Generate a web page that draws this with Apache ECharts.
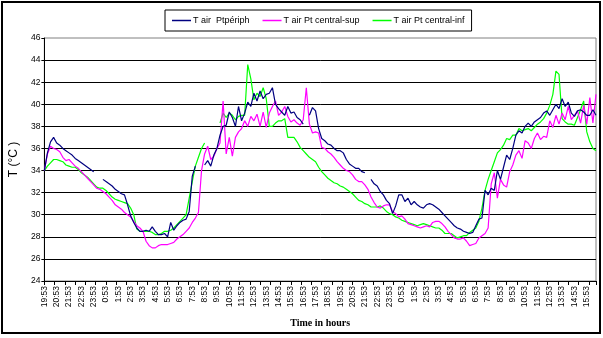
<!DOCTYPE html>
<html>
<head>
<meta charset="utf-8">
<script src="https://cdn.jsdelivr.net/npm/echarts@6/dist/echarts.min.js"></script>
<style>
  html, body { margin: 0; padding: 0; background: #fff; }
  #tempChart { width: 603px; height: 338px; }
</style>
</head>
<body>
<div id="tempChart"></div>
<script>
// one reading every 15 min, starting at 19:53
var STEP = 15;

var hourLabels = ['19:53', '20:53', '21:53', '22:53', '23:53', '0:53', '1:53', '2:53', '3:53', '4:53',
  '5:53', '6:53', '7:53', '8:53', '9:53', '10:53', '11:53', '12:53', '13:53', '14:53',
  '15:53', '16:53', '17:53', '18:53', '19:53', '20:53', '21:53', '22:53', '23:53', '0:53',
  '1:53', '2:53', '3:53', '4:53', '5:53', '6:53', '7:53', '8:53', '9:53', '10:53',
  '11:53', '12:53', '13:53', '14:53', '15:53'];

var seriesNames = ['T air  Ptpériph', 'T air Pt central-sup', 'T air Pt central-inf'];

// T air Pt périph
var periph = [
  34.0, 35.6, 36.6, 37.0, 36.5, 36.3, 36.0, 35.8, 35.6, 35.4,
  35.1, 34.9, 34.7, 34.5, 34.3, 34.1, 33.9, null, null, 33.2,
  33.0, 32.8, 32.6, 32.3, 32.1, 31.9, 31.8, 30.9, 29.9, 29.3,
  28.8, 28.5, 28.5, 28.6, 28.5, 28.9, 28.5, 28.2, 28.2, 28.3,
  28.0, 29.3, 28.6, 29.0, 29.3, 29.5, 29.6, 30.3, 33.5, 34.4,
  null, null, 34.5, 34.9, 34.4, 35.4, 36.0, 37.2, 38.0, 38.1,
  39.3, 38.8, 38.0, 39.8, 38.5, 39.2, 40.2, 39.8, 41.0, 40.3,
  41.2, 40.5, 40.9, 41.0, 41.5, 40.0, 39.6, 39.3, 39.0, 39.8,
  39.2, 39.3, 38.8, 38.6, 38.2, null, 39.0, 39.7, 39.4, 37.8,
  36.9, 36.7, 36.4, 36.3, 36.0, 35.8, 35.8, 35.6, 35.0, 34.6,
  34.4, 34.2, 34.2, 33.9, 33.8, null, 33.2, 32.8, 32.6, 32.1,
  31.8, 31.3, 31.0, 30.1, 30.8, 31.8, 31.8, 31.2, 31.5, 30.9,
  31.2, 30.9, 30.7, 30.6, 30.9, 31.0, 30.9, 30.7, 30.5, 30.2,
  29.9, 29.6, 29.3, 29.0, 28.8, 28.7, 28.5, 28.4, 28.3, 28.4,
  29.0, 29.6, 29.7, 32.2, 31.8, 32.4, 32.2, 34.0, 33.2, 34.3,
  35.4, 35.0, 36.0, 37.2, 37.6, 37.4, 38.0, 38.3, 38.0, 38.4,
  38.6, 38.8, 39.2, 39.4, 39.0, 39.5, 40.0, 39.6, 40.5, 39.8,
  40.2, 39.2, 38.9, 39.4, 39.5, 39.3, 39.0, 39.0, 39.5, 39.0
];

// T air Pt central-sup
var centralSup = [
  34.0, 35.5, 36.2, 36.0, 35.9, 35.7, 35.2, 34.9, 35.0, 34.7,
  34.4, 34.2, 33.9, 33.6, 33.3, 33.0, 32.7, 32.4, 32.3, 32.1,
  31.9, 31.6, 31.3, 30.9, 30.7, 30.5, 30.2, 30.0, 29.8, 29.4,
  29.0, 28.8, 28.5, 27.6, 27.2, 27.0, 27.0, 27.2, 27.3, 27.3,
  27.3, 27.4, 27.5, 27.8, 28.0, 28.2, 28.5, 28.8, 29.3, 29.7,
  30.2, 34.0, 35.5, 36.2, 35.0, 35.3, 36.0, 36.5, 40.3, 35.5,
  37.0, 35.3, 37.0, 37.5, 37.8, 38.5, 38.0, 38.9, 38.5, 39.1,
  38.0, 39.3, 37.9, 39.2, 39.8, 40.3, 39.0, 39.3, 39.8, 38.9,
  38.4, 38.6, 38.3, 38.1, 38.6, 41.5, 38.2, 37.4, 37.5, 37.4,
  36.1, 36.0, 35.7, 35.5, 35.2, 34.8, 34.5, 34.2, 34.0, 33.9,
  33.6, 33.2, 33.0, 33.0, 32.7, 32.3, 31.6, 31.1, 30.7, 30.6,
  30.8, 30.9, 30.9, 30.3, 30.1, 29.8, 29.9, 29.6, 29.2, 29.1,
  29.0, 28.9, 28.8, 28.9, 29.0, 28.9, 29.3, 29.4, 29.4, 29.2,
  28.9, 28.5, 28.2, 27.9, 27.8, 27.8, 27.9, 27.6, 27.2, 27.3,
  27.4, 27.9, 28.1, 28.3, 28.8, 32.8, 33.8, 31.5, 33.2, 32.7,
  32.5, 33.9, 34.5, 35.4, 35.8, 35.1, 36.7, 36.5, 36.0, 36.9,
  37.4, 36.8, 37.1, 37.0, 38.5, 37.9, 39.0, 38.2, 39.2, 38.6,
  39.8, 38.6, 39.0, 39.4, 38.3, 39.9, 38.2, 40.6, 38.3, 40.9
];

// T air Pt central-inf
var centralInf = [
  34.0, 34.4, 34.7, 35.0, 35.0, 34.9, 34.8, 34.5, 34.4, 34.3,
  34.3, 34.1, 33.8, 33.6, 33.4, 33.1, 32.8, 32.5, 32.4, 32.4,
  32.2, 31.9, 31.6, 31.4, 31.3, 31.2, 31.1, 31.0, 30.6, 30.0,
  28.7, 28.5, 28.5, 28.5, 28.5, 28.4, 28.2, 28.2, 28.3, 28.5,
  28.5, 28.6, 28.8, 29.1, 29.4, 29.7, 30.0, 31.5, 33.0, 34.4,
  35.2, 36.0, 36.5, null, null, null, null, 38.3, 39.2, 38.8,
  39.2, 39.0, 38.6, 38.9, 39.0, 39.0, 43.6, 42.3, 40.4, 41.0,
  40.7, 41.5, 40.5, 38.0, 38.0, 38.3, 38.5, 38.5, 38.7, 37.0,
  37.0, 37.0, 36.6, 36.1, 35.8, 35.5, 35.2, 35.0, 34.8, 34.3,
  33.9, 33.6, 33.3, 33.1, 32.9, 32.8, 32.6, 32.5, 32.3, 32.1,
  31.9, 31.6, 31.3, 31.2, 31.0, 30.9, 30.7, 30.7, 30.7, 30.8,
  30.6, 30.3, 30.1, 30.0, 29.8, 29.7, 29.5, 29.4, 29.3, 29.2,
  29.1, 29.0, 29.1, 29.2, 29.1, 29.0, 28.9, 28.8, 28.8, 28.6,
  28.3, 28.3, 28.3, 28.1, 27.9, 28.0, 28.1, 28.1, 28.4, 28.6,
  28.8, 29.4, 30.6, 32.2, 33.2, 34.0, 34.8, 35.6, 35.9, 36.3,
  36.9, 36.8, 37.2, 37.2, 37.8, 37.6, 37.7, 37.8, 37.6, 37.9,
  38.2, 38.4, 38.7, 39.2, 39.9, 40.9, 43.0, 42.7, 38.7, 38.4,
  38.2, 38.2, 38.1, 38.8, 39.5, 40.3, 37.5, 36.6, 36.0, 35.8
];

var lastMinute = (periph.length - 1) * STEP;

function pairs(values) {
  return values.map(function (v, i) { return [i * STEP, v]; });
}

var labelFont = '"Liberation Sans", Arial, sans-serif';

var chart = echarts.init(document.getElementById('tempChart'));
chart.setOption({
  backgroundColor: '#fff',
  animation: false,
  color: ['#000080', '#ff00ff', '#00ff00'],
  graphic: [{
    type: 'rect',
    shape: { x: 2, y: 2, width: 598, height: 331 },
    style: { fill: 'none', stroke: '#000', lineWidth: 2 },
    silent: true
  }],
  legend: {
    left: 165,
    top: 10,
    padding: [6, 7, 6, 7],
    itemGap: 13,
    itemWidth: 19,
    itemHeight: 1.5,
    icon: 'rect',
    borderColor: '#000',
    borderWidth: 1,
    textStyle: { color: '#000', fontSize: 9, fontFamily: labelFont, padding: [0, 0, 0, -3] },
    data: seriesNames
  },
  grid: {
    show: true,
    left: 31,
    top: 38,
    width: 565,
    height: 243,
    borderColor: '#808080',
    borderWidth: 1,
    backgroundColor: '#fff'
  },
  xAxis: [{
    type: 'value',
    min: 0,
    max: lastMinute,
    interval: 60,
    name: 'Time in hours',
    nameLocation: 'middle',
    nameGap: 37,
    nameTextStyle: { color: '#000', fontSize: 10, fontWeight: 'bold', fontFamily: '"Liberation Serif", "Times New Roman", serif' },
    axisLine: { show: true, lineStyle: { color: '#000', width: 1 } },
    axisTick: { show: false },
    splitLine: { show: false },
    axisLabel: {
      rotate: 90,
      margin: 5,
      color: '#000',
      fontSize: 8.5,
      fontFamily: labelFont,
      showMaxLabel: false,
      formatter: function (v) {
        var i = v / 60;
        return i % 1 === 0 && hourLabels[i] ? hourLabels[i] : '';
      }
    }
  }, {
    // tick marks every 50 min, like the original sheet
    type: 'value',
    min: 0,
    max: lastMinute,
    interval: 50,
    position: 'bottom',
    axisLine: { show: false },
    axisTick: { show: true, length: 4, lineStyle: { color: '#000' } },
    axisLabel: { show: false },
    splitLine: { show: false }
  }],
  yAxis: {
    type: 'value',
    min: 24,
    max: 46,
    interval: 2,
    name: 'T (°C )',
    nameLocation: 'middle',
    nameGap: 18,
    nameRotate: 90,
    nameTextStyle: { color: '#000', fontSize: 12, fontFamily: labelFont },
    axisLine: { show: true, lineStyle: { color: '#000', width: 1 } },
    axisTick: { show: true, length: 3, lineStyle: { color: '#000' } },
    axisLabel: { color: '#000', fontSize: 8.5, fontFamily: labelFont, margin: 4 },
    splitLine: { show: true, showMaxLine: false, lineStyle: { color: '#000', width: 1 } }
  },
  series: [periph, centralSup, centralInf].map(function (vals, i) {
    return {
      name: seriesNames[i],
      type: 'line',
      data: pairs(vals),
      symbol: 'none',
      lineStyle: { width: 1.2 },
      z: 3 - i
    };
  })
});
</script>
</body>
</html>
